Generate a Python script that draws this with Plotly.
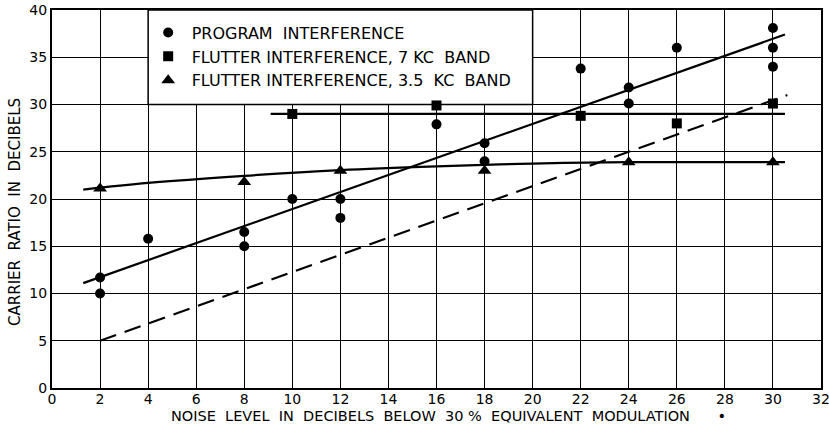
import plotly.graph_objects as go

# ---- data ----
prog_x = [2, 2, 4, 8, 8, 10, 12, 12, 16, 18, 18, 22, 24, 24, 26, 30, 30, 30]
prog_y = [11.7, 10.0, 15.8, 16.5, 15.0, 20.0, 20.0, 18.0, 27.9, 25.9, 24.0, 33.8, 31.8, 30.1, 36.0, 38.1, 36.0, 34.0]

f7_x = [10, 16, 22, 26, 30]
f7_y = [29.0, 29.9, 28.8, 28.0, 30.1]

f35_x = [2, 8, 12, 18, 24, 30]
f35_y = [21.1, 21.8, 23.0, 23.0, 23.9, 23.9]

# fitted curves
prog_fit_x = [1.3, 30.5]
prog_fit_y = [11.1, 37.4]

dash_fit_x = [2.0, 30.6]
dash_fit_y = [5.0, 31.0]

f7_fit_x = [9.1, 30.5]
f7_fit_y = [29.0, 29.0]

f35_fit_x = [1.3, 4, 8, 12, 16, 20, 24, 30.5]
f35_fit_y = [21.0, 21.7, 22.45, 23.05, 23.45, 23.75, 23.9, 23.9]

x_ticks = list(range(0, 33, 2))
y_ticks = list(range(0, 41, 5))

NB = "\u00a0"
names = ["PROGRAM" + NB + NB + "INTERFERENCE",
         "FLUTTER" + NB + "INTERFERENCE," + NB + "7" + NB + "KC" + NB + NB + "BAND",
         "FLUTTER" + NB + "INTERFERENCE," + NB + "3.5" + NB + NB + "KC" + NB + NB + "BAND"]
y_title = (NB + NB).join(["CARRIER", "RATIO", "IN", "DECIBELS"])
x_title = (NB + NB).join(["NOISE", "LEVEL", "IN", "DECIBELS", "BELOW", "30" + NB + "%",
                          "EQUIVALENT", "MODULATION"]) + NB * 6 + "\u2022"

FONT = "DejaVu Sans"
fig = go.Figure()

line_style = dict(color="black", width=2.2)
fig.add_trace(go.Scatter(x=prog_fit_x, y=prog_fit_y, mode="lines", line=line_style,
                         showlegend=False, hoverinfo="skip"))
fig.add_trace(go.Scatter(x=dash_fit_x, y=dash_fit_y, mode="lines",
                         line=dict(color="black", width=2.2, dash="17px,9px"),
                         showlegend=False, hoverinfo="skip"))
fig.add_trace(go.Scatter(x=f7_fit_x, y=f7_fit_y, mode="lines", line=line_style,
                         showlegend=False, hoverinfo="skip"))
fig.add_trace(go.Scatter(x=f35_fit_x, y=f35_fit_y, mode="lines",
                         line=dict(color="black", width=2.2, shape="spline"),
                         showlegend=False, hoverinfo="skip"))

fig.add_trace(go.Scatter(x=prog_x, y=prog_y, mode="markers", name=names[0], legendgroup="a",
                         marker=dict(symbol="circle", size=10, color="black")))
fig.add_trace(go.Scatter(x=f7_x, y=f7_y, mode="markers", name=names[1], legendgroup="b",
                         marker=dict(symbol="square", size=10, color="black")))
fig.add_trace(go.Scatter(x=f35_x, y=f35_y, mode="markers", name=names[2], legendgroup="c",
                         marker=dict(symbol="triangle-up", size=12, color="black")))

fig.add_shape(type="rect", x0=4, x1=20, y0=30, y1=40, xref="x", yref="y",
              fillcolor="white", line=dict(color="black", width=1.5), layer="between")

axis_common = dict(showgrid=True, gridcolor="black", gridwidth=1.4, zeroline=False,
                   showline=True, linecolor="black", linewidth=2, mirror=True, ticks="",
                   automargin=False, ticklabeloverflow="allow",
                   tickfont=dict(family=FONT, size=14, color="black"))
fig.update_xaxes(range=[0, 32], tickvals=x_ticks, ticklen=0, ticklabelstandoff=-3,
                 **axis_common)
fig.update_yaxes(range=[0, 40], tickvals=y_ticks, **axis_common)

fig.add_annotation(text=y_title, xref="paper", yref="paper",
                   x=-0.048, y=0.466, xanchor="center", yanchor="middle",
                   textangle=-90, showarrow=False,
                   font=dict(family=FONT, size=15, color="black"))
fig.add_annotation(text=x_title,
                   xref="paper", yref="paper", x=0.515, y=-0.074,
                   xanchor="center", yanchor="middle", showarrow=False,
                   font=dict(family=FONT, size=14.5, color="black"))

fig.update_layout(
    width=829, height=425,
    margin=dict(l=52, r=8, t=10, b=37, autoexpand=False),
    paper_bgcolor="white", plot_bgcolor="white",
    showlegend=True,
    legend=dict(x=0.1205, y=0.985, xanchor="left", yanchor="top",
                bgcolor="rgba(0,0,0,0)", borderwidth=0, tracegroupgap=0,
                traceorder="grouped", itemwidth=37,
                font=dict(family=FONT, size=16, color="black")),
)

fig.write_html("out.html", config={"displayModeBar": False},
               post_script="document.body.style.margin='0';document.body.style.overflow='hidden';")
